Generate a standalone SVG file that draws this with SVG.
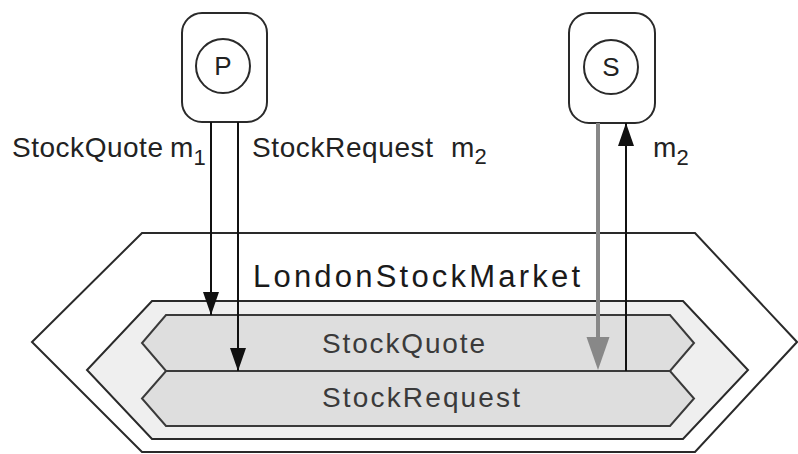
<svg xmlns="http://www.w3.org/2000/svg" width="798" height="454" viewBox="0 0 798 454">
  <style>
    .lbl { font-family: "Liberation Sans", Arial, sans-serif; font-size: 28px; fill: #222; }
    .sub { font-family: "Liberation Sans", Arial, sans-serif; font-size: 22px; fill: #222; }
    .title { font-family: "Liberation Sans", Arial, sans-serif; font-size: 31px; fill: #1a1a1a; }
    .chan { font-family: "Liberation Sans", Arial, sans-serif; font-size: 28px; fill: #3a3a3a; }
    .pname { font-family: "Liberation Sans", Arial, sans-serif; font-size: 26px; fill: #222; text-anchor: middle; }
    .box { fill: #fff; stroke: #2a2a2a; stroke-width: 2; }
    .ring { fill: none; stroke: #2a2a2a; stroke-width: 2; }
    .hex-outer { fill: #fff; stroke: #2a2a2a; stroke-width: 2; }
    .hex-mid { fill: #efefef; stroke: #2a2a2a; stroke-width: 2; }
    .hex-chan { fill: #dedede; stroke: #3a3a3a; stroke-width: 2; }
    .wire { fill: none; stroke: #111; stroke-width: 2; }
    .wire-grey { fill: none; stroke: #888; stroke-width: 4; }
  </style>
  <defs>
    <!-- filled arrowhead, drawn along +x so orient="auto" follows the line -->
    <marker id="ah" viewBox="0 0 23 16" refX="23" refY="8" markerWidth="23" markerHeight="16" markerUnits="userSpaceOnUse" orient="auto">
      <path d="M0,0 L23,8 L0,16 Z" fill="#111"/>
    </marker>
  </defs>

  <!-- market environment -->
  <g id="london-stock-market">
    <polygon class="hex-outer" points="142,233 695,233 797,342 695,452 142,452 32,342"/>
    <text class="title" x="253" y="287" textLength="327" lengthAdjust="spacing">LondonStockMarket</text>
    <polygon class="hex-mid" points="152,301 683,301 748,370 683,439 152,439 87,370"/>
  </g>

  <!-- channels -->
  <g id="chan-stockquote">
    <polygon class="hex-chan" points="166,315 670,315 694,343 670,371 166,371 142,343"/>
    <text class="chan" x="322" y="353" textLength="163" lengthAdjust="spacing">StockQuote</text>
  </g>
  <g id="chan-stockrequest">
    <polygon class="hex-chan" points="166,371 670,371 694,398.5 670,426 166,426 142,398.5"/>
    <text class="chan" x="322" y="407" textLength="198" lengthAdjust="spacing">StockRequest</text>
  </g>

  <!-- processes -->
  <g id="proc-p">
    <rect class="box" x="182" y="13" width="85" height="109" rx="20"/>
    <circle class="ring" cx="223" cy="66" r="27"/>
    <text class="pname" x="223" y="75">P</text>
  </g>
  <g id="proc-s">
    <rect class="box" x="569" y="13" width="86" height="110" rx="20"/>
    <circle class="ring" cx="611" cy="67" r="27"/>
    <text class="pname" x="611" y="76">S</text>
  </g>

  <!-- connectors -->
  <g id="connectors">
    <line class="wire" x1="211" y1="122" x2="211" y2="315" marker-end="url(#ah)"/>
    <line class="wire" x1="238" y1="122" x2="238" y2="371" marker-end="url(#ah)"/>
    <line class="wire-grey" x1="598" y1="123" x2="598" y2="340"/>
    <path d="M586.5,337 L609.5,337 L598,370 Z" fill="#888"/>
    <line class="wire" x1="626" y1="371" x2="626" y2="123" stroke="#222" marker-end="url(#ah)"/>
  </g>

  <!-- message labels -->
  <g id="labels">
    <text class="lbl" x="12" y="157" textLength="151" lengthAdjust="spacing">StockQuote</text>
    <text class="lbl" x="170" y="157">m</text>
    <text class="sub" x="193.5" y="165">1</text>
    <text class="lbl" x="252" y="157" textLength="181" lengthAdjust="spacing">StockRequest</text>
    <text class="lbl" x="451" y="157">m</text>
    <text class="sub" x="474.5" y="164">2</text>
    <text class="lbl" x="653" y="157">m</text>
    <text class="sub" x="676.5" y="165">2</text>
  </g>
</svg>
